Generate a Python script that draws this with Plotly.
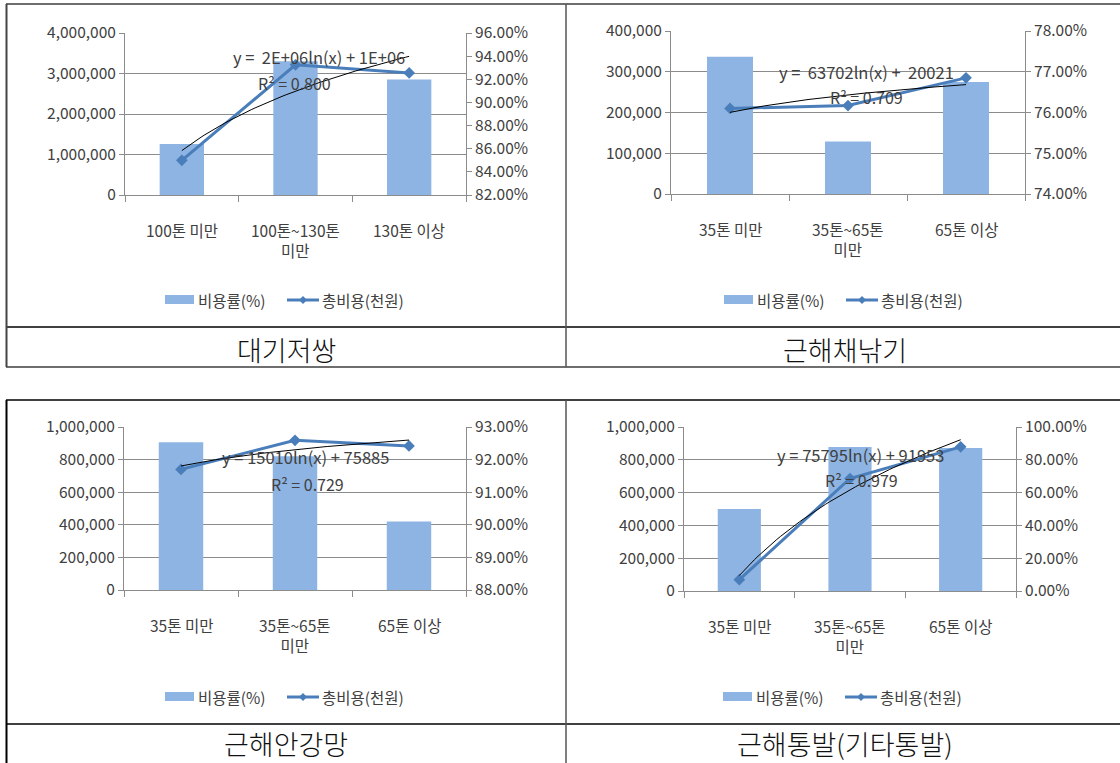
import numpy as np
import plotly.graph_objects as go

W, H = 1120, 763

# ---------------- data ----------------
titles = ["대기저쌍", "근해채낚기", "근해안강망", "근해통발(기타통발)"]
categories_1 = ["100톤 미만", "100톤~130톤<br>미만", "130톤 이상"]
categories_2 = ["35톤 미만", "35톤~65톤<br>미만", "65톤 이상"]
categories_3 = ["35톤 미만", "35톤~65톤<br>미만", "65톤 이상"]
categories_4 = ["35톤 미만", "35톤~65톤<br>미만", "65톤 이상"]

bar_values_1 = [1260000, 3300000, 2850000]
bar_values_2 = [337000, 129000, 275000]
bar_values_3 = [906000, 820000, 420000]
bar_values_4 = [500000, 878000, 872000]

line_values_1 = [85.0, 93.25, 92.55]
line_values_2 = [76.10, 76.17, 76.85]
line_values_3 = [91.70, 92.59, 92.42]
line_values_4 = [6.9, 68.6, 87.9]

equations = ["y =  2E+06ln(x) + 1E+06", "y =  63702ln(x) +  20021",
             "y = 15010ln(x) + 75885", "y = 75795ln(x) + 91953"]
r2_texts = ["R² = 0.800", "R² = 0.709", "R² = 0.729", "R² = 0.979"]

left_ranges = [[0, 4000000], [0, 400000], [0, 1000000], [0, 1000000]]
left_dticks = [1000000, 100000, 200000, 200000]
right_ranges = [[82, 96], [74, 78], [88, 93], [0, 100]]
right_dticks = [2, 1, 1, 20]

legend_names = ["비용률(%)", "총비용(천원)"]

# ---------------- layout geometry (pixels) ----------------
plot_boxes = [  # left, right, top, bottom
    (125, 466, 33, 195),
    (671, 1025, 31, 194),
    (124, 466, 427, 590),
    (684, 1016, 427, 591),
]
cat_label_y = [217, 216, 612, 613]
legend_center = [(291, 300), (850, 300), (291, 697), (849, 697)]
title_pos = [(286, 349), (845, 349), (286, 743), (845, 743)]
eq_pos = [(319, 57), (866, 72), (305, 457), (860, 455)]
r2_pos = [(294, 83), (866, 97), (307, 484), (861, 480)]

BAR_COLOR = "#8DB4E2"
LINE_COLOR = "#4A7EBB"
TEXT_COLOR = "#404040"
GRID_COLOR = "#8C8C8C"
FONT = "Noto Sans CJK KR"
FS = 15.5


def X(px):
    return px / W


def Y(py):
    return 1 - py / H


cats = [categories_1, categories_2, categories_3, categories_4]
bars = [bar_values_1, bar_values_2, bar_values_3, bar_values_4]
lines = [line_values_1, line_values_2, line_values_3, line_values_4]

fig = go.Figure()
layout = dict(
    width=W, height=H, margin=dict(l=0, r=0, t=0, b=0, pad=0), template="none",
    paper_bgcolor="white", plot_bgcolor="rgba(0,0,0,0)",
    showlegend=False, font=dict(family=FONT, color=TEXT_COLOR, size=FS),
)
annotations = []
shapes = []


def ann(x, y, text, size=FS, xanchor="center", yanchor="middle", color=TEXT_COLOR, xref="paper", weight=None):
    f = dict(family=FONT, size=size, color=color)
    if weight:
        f["weight"] = weight
    annotations.append(dict(x=x, y=y, xref=xref, yref="paper", text=text, showarrow=False,
                            xanchor=xanchor, yanchor=yanchor, font=f))


for i in range(4):
    n = i + 1
    xa = "x" if n == 1 else f"x{n}"
    ya_l = f"y{2 * n - 1}" if n > 1 else "y"
    ya_r = f"y{2 * n}"
    xpos = list(range(1, len(cats[i]) + 1))
    l, r, t, b = plot_boxes[i]

    fig.add_trace(go.Bar(x=xpos, y=bars[i], width=0.39, marker=dict(color=BAR_COLOR, line=dict(width=0)),
                         xaxis=xa, yaxis=ya_l, name=legend_names[0]))
    fig.add_trace(go.Scatter(x=xpos, y=lines[i], mode="lines+markers",
                             line=dict(color=LINE_COLOR, width=3),
                             marker=dict(symbol="diamond", size=9, color=LINE_COLOR),
                             xaxis=xa, yaxis=ya_r, name=legend_names[1]))
    # logarithmic trendline fitted on the line series
    a, c = np.polyfit(np.log(xpos), lines[i], 1)
    xs = np.linspace(xpos[0], xpos[-1], 60)
    fig.add_trace(go.Scatter(x=xs, y=a * np.log(xs) + c, mode="lines",
                             line=dict(color="black", width=1),
                             xaxis=xa, yaxis=ya_r, hoverinfo="skip"))

    xkey = "xaxis" if n == 1 else f"xaxis{n}"
    ylkey = "yaxis" if n == 1 else f"yaxis{2 * n - 1}"
    yrkey = f"yaxis{2 * n}"
    layout[xkey] = dict(domain=[X(l), X(r)], range=[0.5, len(xpos) + 0.5], anchor=ya_l,
                        showgrid=False, zeroline=False, showticklabels=False, automargin=False,
                        showline=True, linecolor=GRID_COLOR, linewidth=1,
                        tickmode="array", tickvals=[k + 0.5 for k in range(len(xpos) + 1)],
                        ticks="outside", ticklen=6, tickcolor=GRID_COLOR, fixedrange=True)
    layout[ylkey] = dict(domain=[Y(b), Y(t)], range=left_ranges[i], dtick=left_dticks[i],
                         anchor=xa, tickformat=",d", showgrid=True, gridcolor=GRID_COLOR, gridwidth=1,
                         zeroline=False, showline=True, linecolor=GRID_COLOR, ticks="outside",
                         ticklen=5, tickcolor=GRID_COLOR, automargin=False,
                         tickfont=dict(family=FONT, size=FS, color=TEXT_COLOR), fixedrange=True)
    layout[yrkey] = dict(domain=[Y(b), Y(t)], range=right_ranges[i], dtick=right_dticks[i],
                         anchor=xa, overlaying=ya_l, side="right", tickformat=".2f", ticksuffix="%",
                         showgrid=False, zeroline=False, showline=True, linecolor=GRID_COLOR,
                         ticks="outside", ticklen=5, tickcolor=GRID_COLOR, automargin=False,
                         tickfont=dict(family=FONT, size=FS, color=TEXT_COLOR), fixedrange=True)

    # category labels
    for k, cname in enumerate(cats[i]):
        ann(xpos[k], Y(cat_label_y[i]), cname, yanchor="top", xref=xa)
    # trendline labels
    ann(X(eq_pos[i][0]), Y(eq_pos[i][1]), equations[i], size=16.5)
    ann(X(r2_pos[i][0]), Y(r2_pos[i][1]), r2_texts[i], size=16)

    # legend
    cx, cy = legend_center[i]
    shapes.append(dict(type="rect", xref="paper", yref="paper", x0=X(cx - 126), x1=X(cx - 97),
                       y0=Y(cy + 4), y1=Y(cy - 5), fillcolor=BAR_COLOR, line=dict(width=0)))
    ann(X(cx - 95), Y(cy), legend_names[0], xanchor="left")
    shapes.append(dict(type="line", xref="paper", yref="paper", x0=X(cx - 4), x1=X(cx + 28),
                       y0=Y(cy), y1=Y(cy), line=dict(color=LINE_COLOR, width=3)))
    mx = cx + 12
    d = 4
    shapes.append(dict(type="path", xref="paper", yref="paper",
                       path=f"M {X(mx - d)} {Y(cy)} L {X(mx)} {Y(cy - d)} L {X(mx + d)} {Y(cy)} L {X(mx)} {Y(cy + d)} Z",
                       fillcolor=LINE_COLOR, line=dict(width=0)))
    ann(X(cx + 29), Y(cy), legend_names[1], xanchor="left")

    # cell title
    ann(X(title_pos[i][0]), Y(title_pos[i][1]), titles[i], size=27, color="#111111", weight=300)


def hline(y, x0, x1, color="black", w=1.5):
    shapes.append(dict(type="line", xref="paper", yref="paper", x0=X(x0), x1=X(x1), y0=Y(y), y1=Y(y),
                       line=dict(color=color, width=w)))


def vline(x, y0, y1, color="black", w=1.5):
    shapes.append(dict(type="line", xref="paper", yref="paper", x0=X(x), x1=X(x), y0=Y(y0), y1=Y(y1),
                       line=dict(color=color, width=w)))


# table borders
hline(4, 6, 1120, "#6E6E6E", 2)
hline(327, 6, 1120, "black", 1.5)
hline(367, 6, 1120, "#6E6E6E", 2)
vline(6.5, 4, 367, "#444444", 2)
vline(566, 4, 367, "#555555", 1.5)
hline(400, 6, 1120, "black", 1.5)
hline(724, 6, 1120, "black", 1.5)
vline(6.5, 400, 763, "black", 2)
vline(566, 400, 763, "#555555", 1.5)

layout["annotations"] = annotations
layout["shapes"] = shapes
fig.update_layout(**layout)
fig.write_html("out.html", config={"displayModeBar": False},
               post_script="document.body.style.margin='0';document.body.style.padding='0';")
